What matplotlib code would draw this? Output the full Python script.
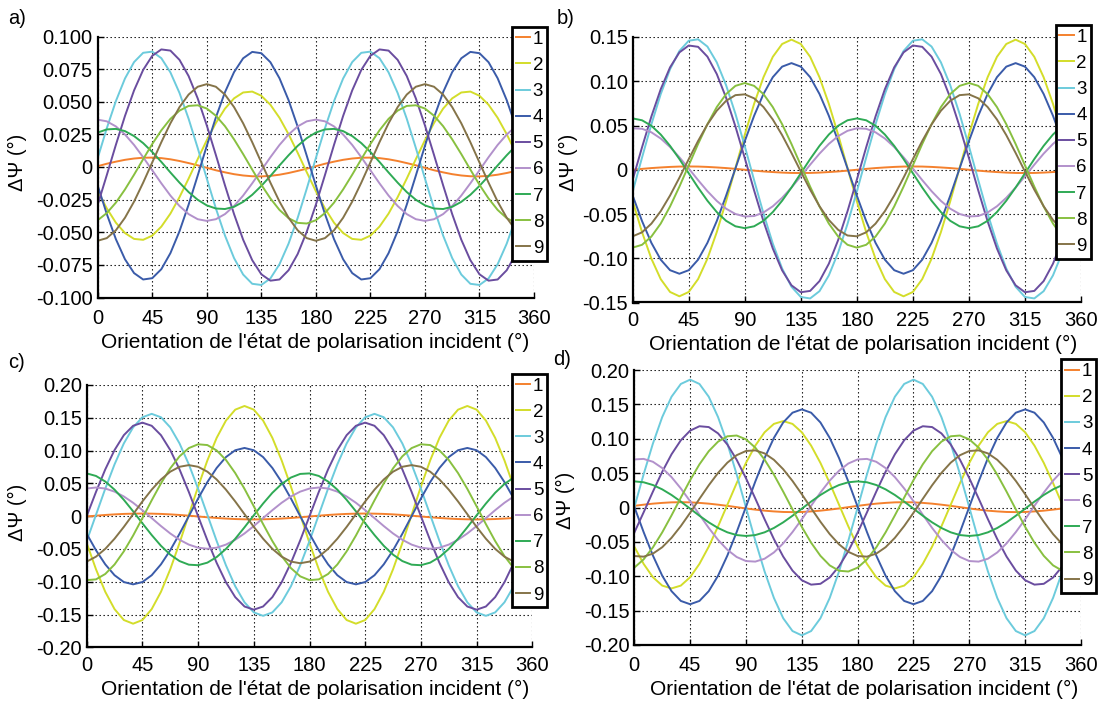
import matplotlib
matplotlib.use("Agg")
import matplotlib.pyplot as plt
from matplotlib.lines import Line2D

plt.rcParams['font.family'] = ['Liberation Sans', 'DejaVu Sans']

# Orientation of the incident polarisation state (deg), read every 7.5 deg
theta = [0, 7.5, 15, 22.5, 30, 37.5, 45, 52.5, 60, 67.5, 75, 82.5,
         90, 97.5, 105, 112.5, 120, 127.5, 135, 142.5, 150, 157.5, 165, 172.5,
         180, 187.5, 195, 202.5, 210, 217.5, 225, 232.5, 240, 247.5, 255, 262.5,
         270, 277.5, 285, 292.5, 300, 307.5, 315, 322.5, 330, 337.5, 345, 352.5, 360]

# ---------------- panel a) ----------------
a_1 = [0.0006, 0.0025, 0.0041, 0.0055, 0.0065, 0.0071, 0.0072, 0.0068, 0.0059, 0.0046, 0.0030, 0.0013,
       -0.0006, -0.0025, -0.0041, -0.0055, -0.0065, -0.0071, -0.0072, -0.0068, -0.0059, -0.0046, -0.0030, -0.0013,
       0.0006, 0.0025, 0.0041, 0.0055, 0.0065, 0.0071, 0.0072, 0.0068, 0.0059, 0.0046, 0.0030, 0.0013,
       -0.0006, -0.0025, -0.0041, -0.0055, -0.0065, -0.0071, -0.0072, -0.0068, -0.0059, -0.0046, -0.0030, -0.0013,
       0.0006]
a_2 = [-0.0185, -0.0317, -0.0427, -0.0506, -0.0551, -0.0558, -0.0526, -0.0457, -0.0357, -0.0231, -0.0089, 0.0060,
       0.0205, 0.0337, 0.0447, 0.0526, 0.0571, 0.0578, 0.0546, 0.0477, 0.0377, 0.0251, 0.0109, -0.0040,
       -0.0185, -0.0317, -0.0427, -0.0506, -0.0551, -0.0558, -0.0526, -0.0457, -0.0357, -0.0231, -0.0089, 0.0060,
       0.0205, 0.0337, 0.0447, 0.0526, 0.0571, 0.0578, 0.0546, 0.0477, 0.0377, 0.0251, 0.0109, -0.0040,
       -0.0185]
a_3 = [0.0068, 0.0297, 0.0505, 0.0678, 0.0804, 0.0875, 0.0884, 0.0834, 0.0725, 0.0567, 0.0370, 0.0146,
       -0.0088, -0.0317, -0.0525, -0.0698, -0.0824, -0.0895, -0.0904, -0.0854, -0.0745, -0.0587, -0.0390, -0.0166,
       0.0068, 0.0297, 0.0505, 0.0678, 0.0804, 0.0875, 0.0884, 0.0834, 0.0725, 0.0567, 0.0370, 0.0146,
       -0.0088, -0.0317, -0.0525, -0.0698, -0.0824, -0.0895, -0.0904, -0.0854, -0.0745, -0.0587, -0.0390, -0.0166,
       0.0068]
a_4 = [-0.0142, -0.0360, -0.0553, -0.0707, -0.0813, -0.0862, -0.0852, -0.0783, -0.0660, -0.0492, -0.0289, -0.0066,
       0.0162, 0.0380, 0.0573, 0.0727, 0.0833, 0.0882, 0.0872, 0.0803, 0.0680, 0.0512, 0.0309, 0.0086,
       -0.0142, -0.0360, -0.0553, -0.0707, -0.0813, -0.0862, -0.0852, -0.0783, -0.0660, -0.0492, -0.0289, -0.0066,
       0.0162, 0.0380, 0.0573, 0.0727, 0.0833, 0.0882, 0.0872, 0.0803, 0.0680, 0.0512, 0.0309, 0.0086,
       -0.0142]
a_5 = [-0.0289, -0.0062, 0.0170, 0.0391, 0.0587, 0.0744, 0.0852, 0.0901, 0.0892, 0.0821, 0.0697, 0.0526,
       0.0319, 0.0092, -0.0140, -0.0361, -0.0557, -0.0714, -0.0822, -0.0871, -0.0862, -0.0791, -0.0667, -0.0496,
       -0.0289, -0.0062, 0.0170, 0.0391, 0.0587, 0.0744, 0.0852, 0.0901, 0.0892, 0.0821, 0.0697, 0.0526,
       0.0319, 0.0092, -0.0140, -0.0361, -0.0557, -0.0714, -0.0822, -0.0871, -0.0862, -0.0791, -0.0667, -0.0496,
       -0.0289]
a_6 = [0.0363, 0.0350, 0.0311, 0.0249, 0.0169, 0.0075, -0.0025, -0.0125, -0.0219, -0.0299, -0.0361, -0.0400,
       -0.0413, -0.0400, -0.0361, -0.0299, -0.0219, -0.0125, -0.0025, 0.0075, 0.0169, 0.0249, 0.0311, 0.0350,
       0.0363, 0.0350, 0.0311, 0.0249, 0.0169, 0.0075, -0.0025, -0.0125, -0.0219, -0.0299, -0.0361, -0.0400,
       -0.0413, -0.0400, -0.0361, -0.0299, -0.0219, -0.0125, -0.0025, 0.0075, 0.0169, 0.0249, 0.0311, 0.0350,
       0.0363]
a_7 = [0.0264, 0.0288, 0.0292, 0.0275, 0.0237, 0.0183, 0.0115, 0.0039, -0.0042, -0.0120, -0.0192, -0.0251,
       -0.0294, -0.0318, -0.0322, -0.0305, -0.0267, -0.0213, -0.0145, -0.0069, 0.0012, 0.0090, 0.0162, 0.0221,
       0.0264, 0.0288, 0.0292, 0.0275, 0.0237, 0.0183, 0.0115, 0.0039, -0.0042, -0.0120, -0.0192, -0.0251,
       -0.0294, -0.0318, -0.0322, -0.0305, -0.0267, -0.0213, -0.0145, -0.0069, 0.0012, 0.0090, 0.0162, 0.0221,
       0.0264]
a_8 = [-0.0408, -0.0353, -0.0273, -0.0172, -0.0059, 0.0060, 0.0176, 0.0281, 0.0369, 0.0432, 0.0468, 0.0473,
       0.0448, 0.0393, 0.0313, 0.0212, 0.0099, -0.0020, -0.0136, -0.0241, -0.0329, -0.0392, -0.0428, -0.0433,
       -0.0408, -0.0353, -0.0273, -0.0172, -0.0059, 0.0060, 0.0176, 0.0281, 0.0369, 0.0432, 0.0468, 0.0473,
       0.0448, 0.0393, 0.0313, 0.0212, 0.0099, -0.0020, -0.0136, -0.0241, -0.0329, -0.0392, -0.0428, -0.0433,
       -0.0408]
a_9 = [-0.0565, -0.0545, -0.0485, -0.0389, -0.0265, -0.0120, 0.0035, 0.0190, 0.0335, 0.0459, 0.0555, 0.0615,
       0.0635, 0.0615, 0.0555, 0.0459, 0.0335, 0.0190, 0.0035, -0.0120, -0.0265, -0.0389, -0.0485, -0.0545,
       -0.0565, -0.0545, -0.0485, -0.0389, -0.0265, -0.0120, 0.0035, 0.0190, 0.0335, 0.0459, 0.0555, 0.0615,
       0.0635, 0.0615, 0.0555, 0.0459, 0.0335, 0.0190, 0.0035, -0.0120, -0.0265, -0.0389, -0.0485, -0.0545,
       -0.0565]

# ---------------- panel b) ----------------
b_1 = [0.0, 0.0010, 0.0019, 0.0026, 0.0032, 0.0036, 0.0037, 0.0036, 0.0032, 0.0026, 0.0019, 0.0010,
       0.0, -0.0010, -0.0019, -0.0026, -0.0032, -0.0036, -0.0037, -0.0036, -0.0032, -0.0026, -0.0019, -0.0010,
       0.0, 0.0010, 0.0019, 0.0026, 0.0032, 0.0036, 0.0037, 0.0036, 0.0032, 0.0026, 0.0019, 0.0010,
       0.0, -0.0010, -0.0019, -0.0026, -0.0032, -0.0036, -0.0037, -0.0036, -0.0032, -0.0026, -0.0019, -0.0010,
       0.0]
b_2 = [-0.0356, -0.0705, -0.1005, -0.1236, -0.1381, -0.1430, -0.1381, -0.1236, -0.1005, -0.0705, -0.0356, 0.0020,
       0.0396, 0.0745, 0.1045, 0.1276, 0.1421, 0.1470, 0.1421, 0.1276, 0.1045, 0.0745, 0.0396, 0.0020,
       -0.0356, -0.0705, -0.1005, -0.1236, -0.1381, -0.1430, -0.1381, -0.1236, -0.1005, -0.0705, -0.0356, 0.0020,
       0.0396, 0.0745, 0.1045, 0.1276, 0.1421, 0.1470, 0.1421, 0.1276, 0.1045, 0.0745, 0.0396, 0.0020,
       -0.0356]
b_3 = [-0.0246, 0.0138, 0.0513, 0.0854, 0.1136, 0.1342, 0.1458, 0.1474, 0.1392, 0.1214, 0.0955, 0.0632,
       0.0266, -0.0118, -0.0493, -0.0834, -0.1116, -0.1322, -0.1438, -0.1454, -0.1372, -0.1194, -0.0935, -0.0612,
       -0.0246, 0.0138, 0.0513, 0.0854, 0.1136, 0.1342, 0.1458, 0.1474, 0.1392, 0.1214, 0.0955, 0.0632,
       0.0266, -0.0118, -0.0493, -0.0834, -0.1116, -0.1322, -0.1438, -0.1454, -0.1372, -0.1194, -0.0935, -0.0612,
       -0.0246]
b_4 = [-0.0293, -0.0580, -0.0826, -0.1016, -0.1135, -0.1175, -0.1135, -0.1016, -0.0826, -0.0580, -0.0293, 0.0015,
       0.0323, 0.0610, 0.0856, 0.1046, 0.1165, 0.1205, 0.1165, 0.1046, 0.0856, 0.0610, 0.0323, 0.0015,
       -0.0293, -0.0580, -0.0826, -0.1016, -0.1135, -0.1175, -0.1135, -0.1016, -0.0826, -0.0580, -0.0293, 0.0015,
       0.0323, 0.0610, 0.0856, 0.1046, 0.1165, 0.1205, 0.1165, 0.1046, 0.0856, 0.0610, 0.0323, 0.0015,
       -0.0293]
b_5 = [-0.0112, 0.0254, 0.0602, 0.0910, 0.1157, 0.1326, 0.1404, 0.1389, 0.1278, 0.1082, 0.0814, 0.0489,
       0.0132, -0.0234, -0.0582, -0.0890, -0.1137, -0.1306, -0.1384, -0.1369, -0.1258, -0.1062, -0.0794, -0.0469,
       -0.0112, 0.0254, 0.0602, 0.0910, 0.1157, 0.1326, 0.1404, 0.1389, 0.1278, 0.1082, 0.0814, 0.0489,
       0.0132, -0.0234, -0.0582, -0.0890, -0.1137, -0.1306, -0.1384, -0.1369, -0.1258, -0.1062, -0.0794, -0.0469,
       -0.0112]
b_6 = [0.0468, 0.0463, 0.0423, 0.0353, 0.0257, 0.0141, 0.0014, -0.0117, -0.0242, -0.0352, -0.0440, -0.0500,
       -0.0528, -0.0523, -0.0483, -0.0413, -0.0317, -0.0201, -0.0074, 0.0057, 0.0182, 0.0292, 0.0380, 0.0440,
       0.0468, 0.0463, 0.0423, 0.0353, 0.0257, 0.0141, 0.0014, -0.0117, -0.0242, -0.0352, -0.0440, -0.0500,
       -0.0528, -0.0523, -0.0483, -0.0413, -0.0317, -0.0201, -0.0074, 0.0057, 0.0182, 0.0292, 0.0380, 0.0440,
       0.0468]
b_7 = [0.0580, 0.0559, 0.0497, 0.0398, 0.0270, 0.0121, -0.0040, -0.0201, -0.0350, -0.0478, -0.0577, -0.0639,
       -0.0660, -0.0639, -0.0577, -0.0478, -0.0350, -0.0201, -0.0040, 0.0121, 0.0270, 0.0398, 0.0497, 0.0559,
       0.0580, 0.0559, 0.0497, 0.0398, 0.0270, 0.0121, -0.0040, -0.0201, -0.0350, -0.0478, -0.0577, -0.0639,
       -0.0660, -0.0639, -0.0577, -0.0478, -0.0350, -0.0201, -0.0040, 0.0121, 0.0270, 0.0398, 0.0497, 0.0559,
       0.0580]
b_8 = [-0.0880, -0.0848, -0.0755, -0.0608, -0.0415, -0.0191, 0.0050, 0.0291, 0.0515, 0.0708, 0.0855, 0.0948,
       0.0980, 0.0948, 0.0855, 0.0708, 0.0515, 0.0291, 0.0050, -0.0191, -0.0415, -0.0608, -0.0755, -0.0848,
       -0.0880, -0.0848, -0.0755, -0.0608, -0.0415, -0.0191, 0.0050, 0.0291, 0.0515, 0.0708, 0.0855, 0.0948,
       0.0980, 0.0948, 0.0855, 0.0708, 0.0515, 0.0291, 0.0050, -0.0191, -0.0415, -0.0608, -0.0755, -0.0848,
       -0.0880]
b_9 = [-0.0752, -0.0707, -0.0609, -0.0468, -0.0291, -0.0090, 0.0120, 0.0325, 0.0512, 0.0667, 0.0779, 0.0843,
       0.0852, 0.0807, 0.0709, 0.0568, 0.0391, 0.0190, -0.0020, -0.0225, -0.0412, -0.0567, -0.0679, -0.0743,
       -0.0752, -0.0707, -0.0609, -0.0468, -0.0291, -0.0090, 0.0120, 0.0325, 0.0512, 0.0667, 0.0779, 0.0843,
       0.0852, 0.0807, 0.0709, 0.0568, 0.0391, 0.0190, -0.0020, -0.0225, -0.0412, -0.0567, -0.0679, -0.0743,
       -0.0752]

# ---------------- panel c) ----------------
c_1 = [-0.0005, 0.0007, 0.0018, 0.0027, 0.0034, 0.0038, 0.0040, 0.0038, 0.0034, 0.0027, 0.0018, 0.0007,
       -0.0005, -0.0017, -0.0028, -0.0037, -0.0044, -0.0048, -0.0050, -0.0048, -0.0044, -0.0037, -0.0028, -0.0017,
       -0.0005, 0.0007, 0.0018, 0.0027, 0.0034, 0.0038, 0.0040, 0.0038, 0.0034, 0.0027, 0.0018, 0.0007,
       -0.0005, -0.0017, -0.0028, -0.0037, -0.0044, -0.0048, -0.0050, -0.0048, -0.0044, -0.0037, -0.0028, -0.0017,
       -0.0005]
c_2 = [-0.0410, -0.0810, -0.1154, -0.1418, -0.1584, -0.1640, -0.1584, -0.1418, -0.1154, -0.0810, -0.0410, 0.0020,
       0.0450, 0.0850, 0.1194, 0.1458, 0.1624, 0.1680, 0.1624, 0.1458, 0.1194, 0.0850, 0.0450, 0.0020,
       -0.0410, -0.0810, -0.1154, -0.1418, -0.1584, -0.1640, -0.1584, -0.1418, -0.1154, -0.0810, -0.0410, 0.0020,
       0.0450, 0.0850, 0.1194, 0.1458, 0.1624, 0.1680, 0.1624, 0.1458, 0.1194, 0.0850, 0.0450, 0.0020,
       -0.0410]
c_3 = [-0.0379, 0.0020, 0.0419, 0.0790, 0.1109, 0.1354, 0.1508, 0.1560, 0.1508, 0.1354, 0.1109, 0.0790,
       0.0419, 0.0020, -0.0379, -0.0750, -0.1069, -0.1314, -0.1468, -0.1520, -0.1468, -0.1314, -0.1069, -0.0750,
       -0.0379, 0.0020, 0.0419, 0.0790, 0.1109, 0.1354, 0.1508, 0.1560, 0.1508, 0.1354, 0.1109, 0.0790,
       0.0419, 0.0020, -0.0379, -0.0750, -0.1069, -0.1314, -0.1468, -0.1520, -0.1468, -0.1314, -0.1069, -0.0750,
       -0.0379]
c_4 = [-0.0269, -0.0520, -0.0735, -0.0901, -0.1005, -0.1040, -0.1005, -0.0901, -0.0735, -0.0520, -0.0269, 0.0,
       0.0269, 0.0520, 0.0735, 0.0901, 0.1005, 0.1040, 0.1005, 0.0901, 0.0735, 0.0520, 0.0269, 0.0,
       -0.0269, -0.0520, -0.0735, -0.0901, -0.1005, -0.1040, -0.1005, -0.0901, -0.0735, -0.0520, -0.0269, 0.0,
       0.0269, 0.0520, 0.0735, 0.0901, 0.1005, 0.1040, 0.1005, 0.0901, 0.0735, 0.0520, 0.0269, 0.0,
       -0.0269]
c_5 = [0.0, 0.0369, 0.0713, 0.1008, 0.1235, 0.1378, 0.1426, 0.1378, 0.1235, 0.1008, 0.0713, 0.0369,
       0.0, -0.0369, -0.0713, -0.1008, -0.1235, -0.1378, -0.1426, -0.1378, -0.1235, -0.1008, -0.0713, -0.0369,
       0.0, 0.0369, 0.0713, 0.1008, 0.1235, 0.1378, 0.1426, 0.1378, 0.1235, 0.1008, 0.0713, 0.0369,
       0.0, -0.0369, -0.0713, -0.1008, -0.1235, -0.1378, -0.1426, -0.1378, -0.1235, -0.1008, -0.0713, -0.0369,
       0.0]
c_6 = [0.0421, 0.0437, 0.0421, 0.0374, 0.0300, 0.0204, 0.0091, -0.0030, -0.0151, -0.0264, -0.0360, -0.0434,
       -0.0481, -0.0497, -0.0481, -0.0434, -0.0360, -0.0264, -0.0151, -0.0030, 0.0091, 0.0204, 0.0300, 0.0374,
       0.0421, 0.0437, 0.0421, 0.0374, 0.0300, 0.0204, 0.0091, -0.0030, -0.0151, -0.0264, -0.0360, -0.0434,
       -0.0481, -0.0497, -0.0481, -0.0434, -0.0360, -0.0264, -0.0151, -0.0030, 0.0091, 0.0204, 0.0300, 0.0374,
       0.0421]
c_7 = [0.0652, 0.0613, 0.0528, 0.0404, 0.0249, 0.0074, -0.0109, -0.0288, -0.0452, -0.0587, -0.0685, -0.0740,
       -0.0748, -0.0709, -0.0624, -0.0500, -0.0345, -0.0170, 0.0013, 0.0192, 0.0356, 0.0491, 0.0589, 0.0644,
       0.0652, 0.0613, 0.0528, 0.0404, 0.0249, 0.0074, -0.0109, -0.0288, -0.0452, -0.0587, -0.0685, -0.0740,
       -0.0748, -0.0709, -0.0624, -0.0500, -0.0345, -0.0170, 0.0013, 0.0192, 0.0356, 0.0491, 0.0589, 0.0644,
       0.0652]
c_8 = [-0.0976, -0.0964, -0.0882, -0.0737, -0.0537, -0.0296, -0.0030, 0.0241, 0.0500, 0.0729, 0.0912, 0.1038,
       0.1096, 0.1084, 0.1002, 0.0857, 0.0657, 0.0416, 0.0150, -0.0121, -0.0380, -0.0609, -0.0792, -0.0918,
       -0.0976, -0.0964, -0.0882, -0.0737, -0.0537, -0.0296, -0.0030, 0.0241, 0.0500, 0.0729, 0.0912, 0.1038,
       0.1096, 0.1084, 0.1002, 0.0857, 0.0657, 0.0416, 0.0150, -0.0121, -0.0380, -0.0609, -0.0792, -0.0918,
       -0.0976]
c_9 = [-0.0693, -0.0618, -0.0499, -0.0344, -0.0164, 0.0030, 0.0224, 0.0404, 0.0559, 0.0678, 0.0753, 0.0778,
       0.0753, 0.0678, 0.0559, 0.0404, 0.0224, 0.0030, -0.0164, -0.0344, -0.0499, -0.0618, -0.0693, -0.0718,
       -0.0693, -0.0618, -0.0499, -0.0344, -0.0164, 0.0030, 0.0224, 0.0404, 0.0559, 0.0678, 0.0753, 0.0778,
       0.0753, 0.0678, 0.0559, 0.0404, 0.0224, 0.0030, -0.0164, -0.0344, -0.0499, -0.0618, -0.0693, -0.0718,
       -0.0693]

# ---------------- panel d) ----------------
d_1 = [0.0024, 0.0041, 0.0056, 0.0067, 0.0075, 0.0077, 0.0075, 0.0067, 0.0056, 0.0041, 0.0024, 0.0005,
       -0.0014, -0.0031, -0.0046, -0.0057, -0.0065, -0.0067, -0.0065, -0.0057, -0.0046, -0.0031, -0.0014, 0.0005,
       0.0024, 0.0041, 0.0056, 0.0067, 0.0075, 0.0077, 0.0075, 0.0067, 0.0056, 0.0041, 0.0024, 0.0005,
       -0.0014, -0.0031, -0.0046, -0.0057, -0.0065, -0.0067, -0.0065, -0.0057, -0.0046, -0.0031, -0.0014, 0.0005,
       0.0024]
d_2 = [-0.0569, -0.0820, -0.1014, -0.1136, -0.1177, -0.1136, -0.1014, -0.0820, -0.0569, -0.0275, 0.0040, 0.0355,
       0.0649, 0.0900, 0.1094, 0.1216, 0.1257, 0.1216, 0.1094, 0.0900, 0.0649, 0.0355, 0.0040, -0.0275,
       -0.0569, -0.0820, -0.1014, -0.1136, -0.1177, -0.1136, -0.1014, -0.0820, -0.0569, -0.0275, 0.0040, 0.0355,
       0.0649, 0.0900, 0.1094, 0.1216, 0.1257, 0.1216, 0.1094, 0.0900, 0.0649, 0.0355, 0.0040, -0.0275,
       -0.0569]
d_3 = [0.0, 0.0482, 0.0930, 0.1315, 0.1611, 0.1797, 0.1860, 0.1797, 0.1611, 0.1315, 0.0930, 0.0482,
       0.0, -0.0482, -0.0930, -0.1315, -0.1611, -0.1797, -0.1860, -0.1797, -0.1611, -0.1315, -0.0930, -0.0482,
       0.0, 0.0482, 0.0930, 0.1315, 0.1611, 0.1797, 0.1860, 0.1797, 0.1611, 0.1315, 0.0930, 0.0482,
       0.0, -0.0482, -0.0930, -0.1315, -0.1611, -0.1797, -0.1860, -0.1797, -0.1611, -0.1315, -0.0930, -0.0482,
       0.0]
d_4 = [0.0010, -0.0357, -0.0699, -0.0992, -0.1217, -0.1359, -0.1407, -0.1359, -0.1217, -0.0992, -0.0699, -0.0357,
       0.0010, 0.0377, 0.0719, 0.1012, 0.1237, 0.1379, 0.1427, 0.1379, 0.1237, 0.1012, 0.0719, 0.0377,
       0.0010, -0.0357, -0.0699, -0.0992, -0.1217, -0.1359, -0.1407, -0.1359, -0.1217, -0.0992, -0.0699, -0.0357,
       0.0010, 0.0377, 0.0719, 0.1012, 0.1237, 0.1379, 0.1427, 0.1379, 0.1237, 0.1012, 0.0719, 0.0377,
       0.0010]
d_5 = [-0.0366, -0.0071, 0.0231, 0.0519, 0.0774, 0.0978, 0.1118, 0.1182, 0.1170, 0.1078, 0.0916, 0.0694,
       0.0426, 0.0131, -0.0171, -0.0459, -0.0714, -0.0918, -0.1058, -0.1122, -0.1110, -0.1018, -0.0856, -0.0634,
       -0.0366, -0.0071, 0.0231, 0.0519, 0.0774, 0.0978, 0.1118, 0.1182, 0.1170, 0.1078, 0.0916, 0.0694,
       0.0426, 0.0131, -0.0171, -0.0459, -0.0714, -0.0918, -0.1058, -0.1122, -0.1110, -0.1018, -0.0856, -0.0634,
       -0.0366]
d_6 = [0.0699, 0.0707, 0.0665, 0.0574, 0.0442, 0.0277, 0.0091, -0.0105, -0.0297, -0.0471, -0.0615, -0.0720,
       -0.0779, -0.0787, -0.0745, -0.0654, -0.0522, -0.0357, -0.0171, 0.0025, 0.0217, 0.0391, 0.0535, 0.0640,
       0.0699, 0.0707, 0.0665, 0.0574, 0.0442, 0.0277, 0.0091, -0.0105, -0.0297, -0.0471, -0.0615, -0.0720,
       -0.0779, -0.0787, -0.0745, -0.0654, -0.0522, -0.0357, -0.0171, 0.0025, 0.0217, 0.0391, 0.0535, 0.0640,
       0.0699]
d_7 = [0.0380, 0.0367, 0.0327, 0.0264, 0.0182, 0.0086, -0.0017, -0.0120, -0.0216, -0.0298, -0.0361, -0.0401,
       -0.0414, -0.0401, -0.0361, -0.0298, -0.0216, -0.0120, -0.0017, 0.0086, 0.0182, 0.0264, 0.0327, 0.0367,
       0.0380, 0.0367, 0.0327, 0.0264, 0.0182, 0.0086, -0.0017, -0.0120, -0.0216, -0.0298, -0.0361, -0.0401,
       -0.0414, -0.0401, -0.0361, -0.0298, -0.0216, -0.0120, -0.0017, 0.0086, 0.0182, 0.0264, 0.0327, 0.0367,
       0.0380]
d_8 = [-0.0875, -0.0755, -0.0580, -0.0362, -0.0115, 0.0144, 0.0398, 0.0628, 0.0819, 0.0958, 0.1036, 0.1047,
       0.0991, 0.0871, 0.0696, 0.0478, 0.0231, -0.0028, -0.0282, -0.0512, -0.0703, -0.0842, -0.0920, -0.0931,
       -0.0875, -0.0755, -0.0580, -0.0362, -0.0115, 0.0144, 0.0398, 0.0628, 0.0819, 0.0958, 0.1036, 0.1047,
       0.0991, 0.0871, 0.0696, 0.0478, 0.0231, -0.0028, -0.0282, -0.0512, -0.0703, -0.0842, -0.0920, -0.0931,
       -0.0875]
d_9 = [-0.0706, -0.0715, -0.0671, -0.0578, -0.0441, -0.0270, -0.0077, 0.0126, 0.0323, 0.0503, 0.0652, 0.0761,
       0.0822, 0.0831, 0.0787, 0.0694, 0.0557, 0.0386, 0.0193, -0.0010, -0.0207, -0.0387, -0.0536, -0.0645,
       -0.0706, -0.0715, -0.0671, -0.0578, -0.0441, -0.0270, -0.0077, 0.0126, 0.0323, 0.0503, 0.0652, 0.0761,
       0.0822, 0.0831, 0.0787, 0.0694, 0.0557, 0.0386, 0.0193, -0.0010, -0.0207, -0.0387, -0.0536, -0.0645,
       -0.0706]

series_labels = ['1', '2', '3', '4', '5', '6', '7', '8', '9']
series_colors = ['#F4812E', '#D3DD2A', '#6CCBDC', '#3A5BA9', '#6A4D9F',
                 '#B291CB', '#2FAA55', '#88C040', '#857449']

x_ticks = [0, 45, 90, 135, 180, 225, 270, 315, 360]
x_tick_labels = ['0', '45', '90', '135', '180', '225', '270', '315', '360']

y_ticks_a = [-0.100, -0.075, -0.050, -0.025, 0.0, 0.025, 0.050, 0.075, 0.100]
y_labels_a = ['-0.100', '-0.075', '-0.050', '-0.025', '0', '0.025', '0.050', '0.075', '0.100']
y_ticks_b = [-0.15, -0.10, -0.05, 0.0, 0.05, 0.10, 0.15]
y_labels_b = ['-0.15', '-0.10', '-0.05', '0', '0.05', '0.10', '0.15']
y_ticks_cd = [-0.20, -0.15, -0.10, -0.05, 0.0, 0.05, 0.10, 0.15, 0.20]
y_labels_cd = ['-0.20', '-0.15', '-0.10', '-0.05', '0', '0.05', '0.10', '0.15', '0.20']

x_title = "Orientation de l'état de polarisation incident (°)"
y_title = "ΔΨ (°)"

W, H = 1104, 702
fig = plt.figure(figsize=(W / 100, H / 100), dpi=100)

panels = [
    dict(tag='a)', series=[a_1, a_2, a_3, a_4, a_5, a_6, a_7, a_8, a_9],
         yt=y_ticks_a, yl=y_labels_a, xpad=8,
         ax_px=(97.7, 36.5, 534.0, 297.5), leg_px=(512.0, 27.0),
         ylab=(17, 162), xlab=(315.5, 342), tag_px=(8, 18)),
    dict(tag='b)', series=[b_1, b_2, b_3, b_4, b_5, b_6, b_7, b_8, b_9],
         yt=y_ticks_b, yl=y_labels_b, xpad=6,
         ax_px=(632.7, 37.0, 1081.0, 302.5), leg_px=(1055.7, 25.0),
         ylab=(568, 162), xlab=(863.5, 344), tag_px=(557, 19)),
    dict(tag='c)', series=[c_1, c_2, c_3, c_4, c_5, c_6, c_7, c_8, c_9],
         yt=y_ticks_cd, yl=y_labels_cd, xpad=6,
         ax_px=(86.7, 385.0, 532.3, 647.3), leg_px=(512.3, 373.7),
         ylab=(17, 512), xlab=(315.5, 689), tag_px=(8, 362)),
    dict(tag='d)', series=[d_1, d_2, d_3, d_4, d_5, d_6, d_7, d_8, d_9],
         yt=y_ticks_cd, yl=y_labels_cd, xpad=8,
         ax_px=(634.3, 370.0, 1081.0, 645.0), leg_px=(1061.3, 359.3),
         ylab=(565, 500), xlab=(864.5, 689), tag_px=(553, 360)),
]

FS = 14.5
for p in panels:
    l, t, r, b = p['ax_px']
    ax = fig.add_axes([l / W, 1 - b / H, (r - l) / W, (b - t) / H])
    for vals, col in zip(p['series'], series_colors):
        ax.plot(theta, vals, color=col, lw=1.4)
    ax.set_xlim(0, 360)
    ax.set_ylim(p['yt'][0], p['yt'][-1])
    ax.set_xticks(x_ticks)
    ax.set_xticklabels(x_tick_labels)
    ax.set_yticks(p['yt'])
    ax.set_yticklabels(p['yl'])
    ax.set_axisbelow(True)
    ax.grid(True, color='black', linestyle=(0, (1.2, 2.4)), linewidth=0.8)
    for s in ('top', 'right'):
        ax.spines[s].set_visible(False)
    for s in ('left', 'bottom'):
        ax.spines[s].set_linewidth(1.6)
    ax.tick_params(axis='both', direction='in', length=4, width=1.0, labelsize=FS)
    ax.tick_params(axis='x', pad=p['xpad'])
    ax.tick_params(axis='y', pad=3.5)

    handles = [Line2D([], [], color=c, lw=1.4) for c in series_colors]
    lx, ly = p['leg_px']
    leg = ax.legend(handles, series_labels, loc='upper left',
                    bbox_to_anchor=(lx / W, 1 - ly / H), bbox_transform=fig.transFigure,
                    borderaxespad=0, frameon=True, fancybox=False, framealpha=1,
                    edgecolor='black', fontsize=13.5, handlelength=0.75,
                    handletextpad=0.15, borderpad=0.2, labelspacing=0.48)
    leg.get_frame().set_linewidth(2.0)
    leg.set_zorder(10)

    fig.text(p['xlab'][0] / W, 1 - p['xlab'][1] / H, x_title, ha='center', va='center',
             fontsize=15)
    fig.text(p['ylab'][0] / W, 1 - p['ylab'][1] / H, y_title, ha='center', va='center',
             rotation=90, fontsize=FS)
    fig.text(p['tag_px'][0] / W, 1 - p['tag_px'][1] / H, p['tag'], ha='left', va='center',
             fontsize=FS)

fig.savefig('out.png', dpi=100)
